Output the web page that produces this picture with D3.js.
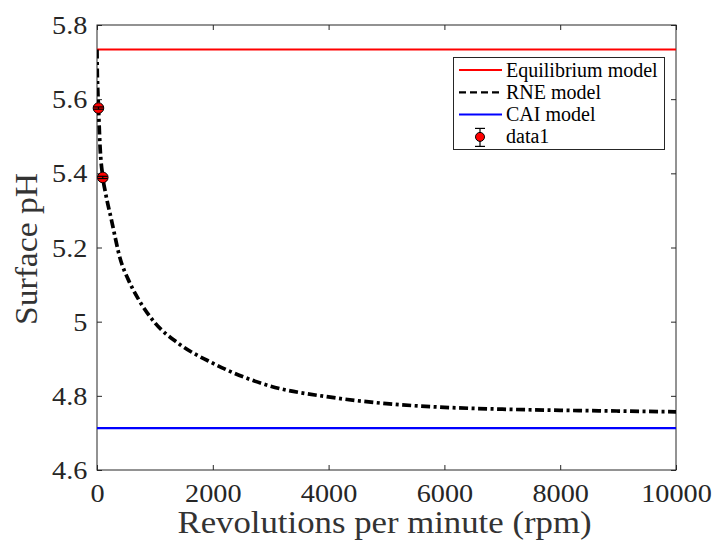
<!DOCTYPE html>
<html>
<head>
<meta charset="utf-8">
<script src="https://cdn.jsdelivr.net/npm/d3@7"></script>
<style>
  html, body { margin: 0; padding: 0; background: #fff; }
  svg { display: block; }
</style>
</head>
<body>
<svg id="chart" width="717" height="544"></svg>
<script>
// Rotation speed grid (rpm) and surface pH predicted by the RNE model
const rpmGrid = [0, 5, 10, 25, 50, 100, 150, 250, 400, 550, 700, 1000, 1400, 2000,
                 3000, 4000, 5000, 6000, 7000, 8000, 9000, 10000];
const rnePH   = [5.734, 5.67, 5.64, 5.58, 5.48, 5.39, 5.345, 5.274, 5.17, 5.11, 5.065, 4.997, 4.942, 4.888,
                 4.826, 4.797, 4.779, 4.769, 4.764, 4.761, 4.759, 4.757];

// Rotation-independent model levels
const equilibriumPH = 5.734;
const caiPH = 4.713;

// Measured points with error
const dataRpm = [25, 100];
const dataPH  = [5.576, 5.389];
const dataErr = [0.003, 0.003];

// Axis ticks
const xTicks = [0, 2000, 4000, 6000, 8000, 10000];
const yTicks = [4.6, 4.8, 5.0, 5.2, 5.4, 5.6, 5.8];
const yTickLabels = ["4.6", "4.8", "5", "5.2", "5.4", "5.6", "5.8"];

// Legend entries
const legendLabels = ["Equilibrium model", "RNE model", "CAI model", "data1"];

(function draw() {
  const svg = d3.select("#chart");
  const pLeft = 97, pTop = 25, pRight = 676, pBottom = 470;
  const axisColor = "#262626";
  const serif = "'Liberation Serif', 'Times New Roman', serif";

  const x = d3.scaleLinear().domain([0, 10000]).range([pLeft, pRight]);
  const y = d3.scaleLinear().domain([4.6, 5.8]).range([pBottom, pTop]);

  svg.append("defs").append("clipPath").attr("id", "plotClip")
    .append("rect").attr("x", pLeft).attr("y", pTop)
    .attr("width", pRight - pLeft).attr("height", pBottom - pTop);

  // Axes with inward ticks on all four sides
  function styleAxis(g) {
    g.select(".domain").remove();
    g.selectAll(".tick line").attr("stroke", axisColor).attr("stroke-width", 1);
    g.attr("font-family", serif).attr("font-size", 25);
    g.selectAll(".tick text").attr("fill", axisColor);
  }

  const gx = svg.append("g").attr("transform", `translate(0,${pBottom})`)
    .call(d3.axisBottom(x).tickValues(xTicks).tickFormat(d3.format("d"))
      .tickSize(-5).tickSizeOuter(0).tickPadding(14));
  styleAxis(gx);
  gx.selectAll(".tick text").attr("transform", "scale(1.13,1)");

  const gy = svg.append("g").attr("transform", `translate(${pLeft},0)`)
    .call(d3.axisLeft(y).tickValues(yTicks).tickFormat((d, i) => yTickLabels[i])
      .tickSize(-5).tickSizeOuter(0).tickPadding(8.5));
  styleAxis(gy);
  gy.selectAll(".tick text").attr("transform", "scale(1.13,1)").attr("dy", "0.34em");

  const gt = svg.append("g").attr("transform", `translate(0,${pTop})`)
    .call(d3.axisTop(x).tickValues(xTicks).tickSize(-5).tickSizeOuter(0).tickFormat(""));
  styleAxis(gt);
  const gr = svg.append("g").attr("transform", `translate(${pRight},0)`)
    .call(d3.axisRight(y).tickValues(yTicks).tickSize(-5).tickSizeOuter(0).tickFormat(""));
  styleAxis(gr);

  // Plot box
  svg.append("rect").attr("x", pLeft).attr("y", pTop)
    .attr("width", pRight - pLeft).attr("height", pBottom - pTop)
    .attr("fill", "none").attr("stroke", axisColor).attr("stroke-width", 1);

  const plot = svg.append("g").attr("clip-path", "url(#plotClip)");

  // Equilibrium model (red) and CAI model (blue)
  plot.append("line")
    .attr("x1", x(0)).attr("x2", x(10000))
    .attr("y1", y(equilibriumPH)).attr("y2", y(equilibriumPH))
    .attr("stroke", "#ff0000").attr("stroke-width", 2);

  plot.append("line")
    .attr("x1", x(0)).attr("x2", x(10000))
    .attr("y1", y(caiPH)).attr("y2", y(caiPH))
    .attr("stroke", "#0000ff").attr("stroke-width", 2.2);

  // RNE model curve, dash-dot
  const rneLine = d3.line()
    .x((d, i) => x(rpmGrid[i]))
    .y(d => y(d))
    .curve(d3.curveMonotoneX);

  plot.append("path")
    .datum(rnePH)
    .attr("d", rneLine)
    .attr("fill", "none")
    .attr("stroke", "#000")
    .attr("stroke-width", 3.7)
    .attr("stroke-dasharray", "9,3.5,3,3.5");

  // Measured data: markers then error bars on top
  const pts = dataRpm.map((r, i) => ({ r, ph: dataPH[i], e: dataErr[i] }));
  svg.append("g").selectAll("circle").data(pts).join("circle")
    .attr("cx", d => x(d.r)).attr("cy", d => y(d.ph)).attr("r", 5.3)
    .attr("fill", "#ff0000").attr("stroke", "#000").attr("stroke-width", 1);

  const eb = svg.append("g").attr("stroke", "#000").attr("stroke-width", 1.2);
  pts.forEach(d => {
    const cx = x(d.r);
    eb.append("line").attr("x1", cx).attr("x2", cx)
      .attr("y1", y(d.ph + d.e)).attr("y2", y(d.ph - d.e));
    [d.ph + d.e, d.ph - d.e].forEach(v => {
      eb.append("line").attr("x1", cx - 5).attr("x2", cx + 5)
        .attr("y1", y(v)).attr("y2", y(v));
    });
  });

  // Axis titles
  svg.append("text")
    .attr("x", 384.5).attr("y", 533)
    .attr("text-anchor", "middle")
    .attr("font-family", serif).attr("font-size", 31)
    .attr("fill", "#333")
    .attr("textLength", 414).attr("lengthAdjust", "spacingAndGlyphs")
    .text("Revolutions per minute (rpm)");

  svg.append("text")
    .attr("transform", "translate(36.5,249) rotate(-90)")
    .attr("text-anchor", "middle")
    .attr("font-family", serif).attr("font-size", 31)
    .attr("fill", "#333")
    .attr("textLength", 152).attr("lengthAdjust", "spacingAndGlyphs")
    .text("Surface pH");

  // Legend
  const lg = svg.append("g");
  lg.append("rect").attr("x", 453.5).attr("y", 57.5).attr("width", 211).attr("height", 92)
    .attr("fill", "#fff").attr("stroke", axisColor).attr("stroke-width", 1);

  const rowY = [70, 92.3, 114.6, 136.9];
  const sx1 = 459, sx2 = 502, tx = 506;

  lg.append("line").attr("x1", sx1).attr("x2", sx2).attr("y1", rowY[0]).attr("y2", rowY[0])
    .attr("stroke", "#ff0000").attr("stroke-width", 2);
  lg.append("line").attr("x1", sx1).attr("x2", sx2).attr("y1", rowY[1]).attr("y2", rowY[1])
    .attr("stroke", "#000").attr("stroke-width", 2.2).attr("stroke-dasharray", "7,4");
  lg.append("line").attr("x1", sx1).attr("x2", sx2).attr("y1", rowY[2]).attr("y2", rowY[2])
    .attr("stroke", "#0000ff").attr("stroke-width", 2);

  const mx = (sx1 + sx2) / 2 - 0.5;
  lg.append("line").attr("x1", mx).attr("x2", mx).attr("y1", rowY[3] - 8.5).attr("y2", rowY[3] + 9.5)
    .attr("stroke", "#000").attr("stroke-width", 1.2);
  [rowY[3] - 8.5, rowY[3] + 9.5].forEach(v => {
    lg.append("line").attr("x1", mx - 5).attr("x2", mx + 5).attr("y1", v).attr("y2", v)
      .attr("stroke", "#000").attr("stroke-width", 1.2);
  });
  lg.append("circle").attr("cx", mx).attr("cy", rowY[3]).attr("r", 4.5)
    .attr("fill", "#ff0000").attr("stroke", "#000").attr("stroke-width", 1);

  lg.selectAll("text.lbl").data(legendLabels).join("text")
    .attr("class", "lbl")
    .attr("x", tx).attr("y", (d, i) => rowY[i] + 6.5)
    .attr("font-family", serif).attr("font-size", 20)
    .attr("fill", "#000")
    .text(d => d);
})();
</script>
</body>
</html>
